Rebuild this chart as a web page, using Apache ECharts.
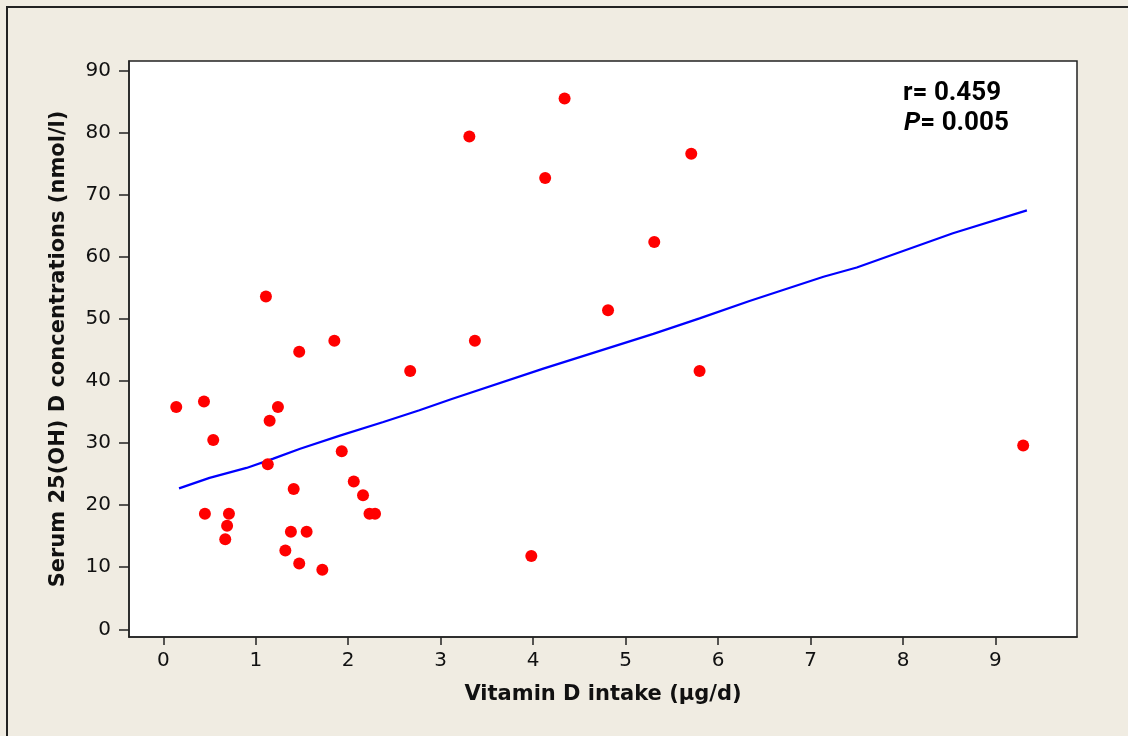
<!DOCTYPE html>
<html>
	<head>
		<meta charset="utf-8" />
		<title></title>
		<script src="https://cdn.jsdelivr.net/npm/echarts@6/dist/echarts.min.js"></script>
		<style>
			*{
				padding: 0;
				margin: 0;
			}
			body{
				background: #f0ece2;
			}
			.main{
				width: 1128px;
				height: 736px;
			}
		</style>
	</head>
	<body>
		<div id="main" class="main"></div>
		<script type="text/javascript">
		var myChart = echarts.init(document.getElementById('main'));

		// 维生素D摄入量 (µg/d)
		var intake = [0.14, 0.44, 0.54, 0.45, 0.71, 0.69, 0.67, 1.11, 1.15, 1.24,
			1.13, 1.47, 1.41, 1.38, 1.55, 1.32, 1.47, 1.72, 1.85, 1.93,
			2.06, 2.16, 2.23, 2.29, 2.67, 3.31, 3.37, 3.98, 4.13, 4.34,
			4.81, 5.31, 5.71, 5.80, 9.30];
		// 血清 25(OH)D (nmol/l)
		var serum = [35.8, 36.7, 30.5, 18.6, 18.6, 16.7, 14.5, 53.6, 33.6, 35.8,
			26.6, 44.7, 22.6, 15.7, 15.7, 12.7, 10.6, 9.6, 46.5, 28.7,
			23.8, 21.6, 18.6, 18.6, 41.6, 79.4, 46.5, 11.8, 72.7, 85.5,
			51.4, 62.4, 76.6, 41.6, 29.6];

		// 拟合线
		var fitX = [0.17, 0.50, 0.90, 1.19, 1.48, 1.91, 2.38, 2.77, 3.12, 4.11,
			5.30, 5.80, 6.34, 7.14, 7.50, 8.54, 9.34];
		var fitY = [22.7, 24.4, 26.0, 27.5, 29.1, 31.2, 33.4, 35.3, 37.1, 42.0,
			47.6, 50.1, 52.9, 56.8, 58.3, 63.8, 67.5];

		var xTicks = [0, 1, 2, 3, 4, 5, 6, 7, 8, 9];
		var yTicks = [0, 10, 20, 30, 40, 50, 60, 70, 80, 90];

		var points = intake.map(function(v, i) { return [v, serum[i]]; });
		var fitLine = fitX.map(function(v, i) { return [v, fitY[i]]; });

		var tickFont = {
			color: '#111',
			fontFamily: 'DejaVu Sans',
			fontSize: 20
		};

		var option = {
			backgroundColor: '#f0ece2',
			animation: false,
			grid: {
				show: true,
				left: 129,
				right: 51,
				top: 61,
				bottom: 99,
				backgroundColor: '#fff',
				borderColor: '#222',
				borderWidth: 1.5
			},
			xAxis: {
				type: 'value',
				min: -0.371,
				max: 9.882,
				name: 'Vitamin D intake (µg/d)',
				nameLocation: 'middle',
				nameGap: 47,
				nameTextStyle: {
					color: '#111',
					fontFamily: 'DejaVu Sans',
					fontWeight: 'bold',
					fontSize: 21
				},
				axisLine: { show: true, onZero: false, lineStyle: { color: '#222', width: 1.5 } },
				axisTick: { show: true, length: 8, customValues: xTicks, lineStyle: { color: '#222', width: 1.5 } },
				axisLabel: Object.assign({ customValues: xTicks, margin: 14 }, tickFont),
				splitLine: { show: false }
			},
			yAxis: {
				type: 'value',
				min: -1.24,
				max: 91.56,
				name: 'Serum 25(OH) D concentrations (nmol/l)',
				nameLocation: 'middle',
				nameGap: 60,
				nameTextStyle: {
					color: '#111',
					fontFamily: 'DejaVu Sans',
					fontWeight: 'bold',
					fontSize: 21
				},
				axisLine: { show: true, onZero: false, lineStyle: { color: '#222', width: 1.5 } },
				axisTick: { show: true, length: 10, customValues: yTicks, lineStyle: { color: '#222', width: 1.5 } },
				axisLabel: Object.assign({ customValues: yTicks, margin: 18 }, tickFont),
				splitLine: { show: false }
			},
			graphic: [{
				type: 'rect',
				shape: { x: 7, y: 7, width: 1140, height: 760 },
				style: { fill: null, stroke: '#222', lineWidth: 2 },
				silent: true
			}, {
				type: 'text',
				left: 903,
				top: 80,
				style: {
					text: 'r= 0.459',
					fill: '#000',
					fontFamily: 'Roboto',
					fontWeight: 'bold',
					fontSize: 26
				}
			}, {
				type: 'text',
				left: 904,
				top: 110,
				style: {
					text: '{i|P}= 0.005',
					fill: '#000',
					fontFamily: 'Roboto',
					fontWeight: 'bold',
					fontSize: 26,
					rich: {
						i: { fontStyle: 'italic', fontWeight: 'bold', fontSize: 26, fontFamily: 'Roboto' }
					}
				}
			}],
			series: [{
				type: 'line',
				data: fitLine,
				symbol: 'none',
				lineStyle: { color: '#0000ff', width: 2.2 },
				z: 2
			}, {
				type: 'scatter',
				data: points,
				symbolSize: 12,
				itemStyle: { color: '#ff0000', opacity: 1 },
				z: 3
			}]
		};

		myChart.setOption(option);
		</script>
	</body>
</html>
